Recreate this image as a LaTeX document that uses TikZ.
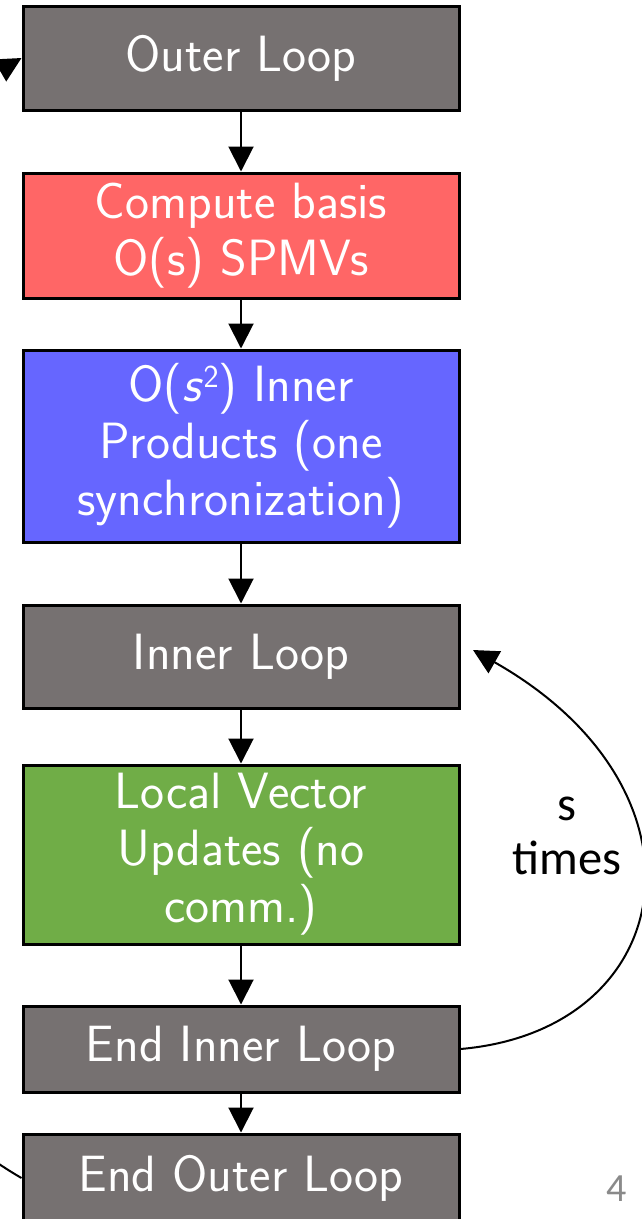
\documentclass[tikz,border=0pt]{standalone}
\usepackage{fix-cm}
\usepackage{fontspec}
\newfontfamily\carl{Carlito}
\usetikzlibrary{arrows.meta}
\definecolor{boxgray}{HTML}{767171}
\definecolor{boxred}{HTML}{FF6666}
\definecolor{boxblue}{HTML}{6666FF}
\definecolor{boxgreen}{HTML}{70AD47}
\definecolor{pagegray}{HTML}{8A8A8A}
\newcommand{\sqsup}{{\itshape s}\kern3pt\raisebox{14pt}{\fontsize{32}{32}\selectfont 2}}
\begin{document}
\begin{tikzpicture}[x=1pt,y=-1pt,
  box/.style={draw=black, line width=3pt, minimum width=436pt, text=white,
    font=\sffamily\fontsize{51}{57}\selectfont, align=center, inner sep=0pt},
  arr/.style={line width=2pt, -{Triangle[width=25pt,length=25pt]}},
  looplabel/.style={font=\carl\fontsize{48.5}{54}\selectfont, align=center},
  pagenum/.style={font=\carl\fontsize{40}{48}\selectfont, text=pagegray}
]
\useasboundingbox (0,0) rectangle (642,1219);
\clip (0,0) rectangle (642,1219);
\node[box, fill=boxgray, minimum height=104pt] (ol) at (241,58) {Outer Loop};
\node[box, fill=boxred, minimum height=125pt] (cb) at (241,235.5) {Compute basis\\O(s) SPMVs};
\node[box, fill=boxblue, minimum height=192pt] (ip) at (241,446) {O(\sqsup) Inner\\Products (one\\synchronization)};
\node[box, fill=boxgray, minimum height=103pt] (il) at (241,656.5) {Inner Loop};
\node[box, fill=boxgreen, minimum height=179pt] (lv) at (241,854.5) {Local Vector\\Updates (no\\comm.)};
\node[box, fill=boxgray, minimum height=86pt] (ei) at (241,1049) {End Inner Loop};
\node[box, fill=boxgray, minimum height=88pt] (eo) at (241,1178) {End Outer Loop};
\coordinate (ilr) at (473,650);
\draw[arr] (ol) -- (cb);
\draw[arr] (cb) -- (ip);
\draw[arr] (ip) -- (il);
\draw[arr] (il) -- (lv);
\draw[arr] (lv) -- (ei);
\draw[arr] (ei) -- (eo);
\draw[arr] (ei.east) .. controls (680,1030) and (720,790) .. (ilr);
\draw[arr] (eo.west) .. controls (-325,978) and (-325,258) .. (ol.west);
\node[looplabel] (st) at (567,836) {s\\times};
\node[pagenum] (pn) at (617,1189) {4};
\end{tikzpicture}
\end{document}
